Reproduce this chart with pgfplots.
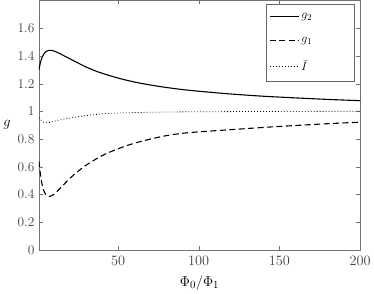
\documentclass[border=0pt]{standalone}
\usepackage{pgfplots}
\pgfplotsset{compat=1.18}
\begin{document}
\begin{tikzpicture}
\begin{axis}[
  scale only axis,
  width=323pt, height=251pt,
  xmin=1, xmax=200, ymin=0, ymax=1.8,
  xtick={50,100,150,200},
  ytick={0,0.2,0.4,0.6,0.8,1,1.2,1.4,1.6},
  yticklabels={0,0.2,0.4,0.6,0.8,1,1.2,1.4,1.6},
  tick align=inside,
  major tick length=4pt,
  axis line style={draw=black!55, line width=0.8pt},
  tick style={draw=black!55},
  ticklabel style={font=\fontsize{13.5}{15}\selectfont, text=black!75},
  xticklabel style={yshift=-3pt},
  yticklabel style={xshift=-1pt},
  xlabel={\fontsize{15}{17}\selectfont $\Phi_0/\Phi_1$},
  ylabel={\fontsize{15}{17}\selectfont $g$},
  ylabel style={rotate=-90, at={(rel axis cs:0,0.5)}, anchor=east, xshift=-25pt},
  xlabel style={yshift=-3pt},
  legend style={at={(rel axis cs:0.982,0.984)}, anchor=north east, draw=black!60, font=\fontsize{12.5}{14}\selectfont, row sep=13pt, inner ysep=7pt, inner xsep=3pt},
  legend cell align=left,
  legend image code/.code={\draw[#1] (0cm,0cm) -- (1.03cm,0cm);},
]
\addplot[black, line width=1.1pt, smooth] coordinates {
(1,1.30) (2,1.355) (3,1.39) (4,1.412) (5,1.427) (6,1.435) (7,1.439) (8,1.44) (9,1.439) (10,1.436)
(12,1.427) (14,1.416) (16,1.404) (18,1.392) (20,1.38) (25,1.35) (30,1.321) (35,1.296) (40,1.275)
(50,1.24) (60,1.212) (70,1.19) (80,1.172) (90,1.157) (100,1.145) (120,1.125) (140,1.109)
(160,1.097) (180,1.086) (200,1.077)
};
\addlegendentry{\makebox[48pt][l]{$g_2$}}
\addplot[black, line width=1.1pt, dash pattern=on 6pt off 3.5pt, smooth] coordinates {
(1,0.64) (2,0.54) (3,0.47) (4,0.43) (5,0.405) (6,0.392) (7,0.388) (8,0.388) (9,0.392) (10,0.40)
(12,0.42) (15,0.455) (20,0.515) (25,0.565) (30,0.61) (40,0.68) (50,0.73) (60,0.77) (70,0.80)
(80,0.825) (90,0.842) (100,0.852) (120,0.868) (140,0.884) (160,0.898) (180,0.911) (200,0.922)
};
\addlegendentry{\makebox[48pt][l]{$g_1$}}
\addplot[black, line width=0.8pt, dash pattern=on 0.8pt off 2.2pt, smooth] coordinates {
(1,0.954) (2,0.94) (3,0.93) (4,0.922) (5,0.919) (6,0.918) (7,0.919) (8,0.921) (10,0.927)
(12,0.933) (15,0.941) (20,0.951) (25,0.961) (30,0.969) (40,0.982) (50,0.988) (60,0.991)
(80,0.995) (100,0.997) (140,0.999) (200,1.0)
};
\addlegendentry{\makebox[48pt][l]{$\bar{I}$}}
\end{axis}
\end{tikzpicture}
\end{document}
